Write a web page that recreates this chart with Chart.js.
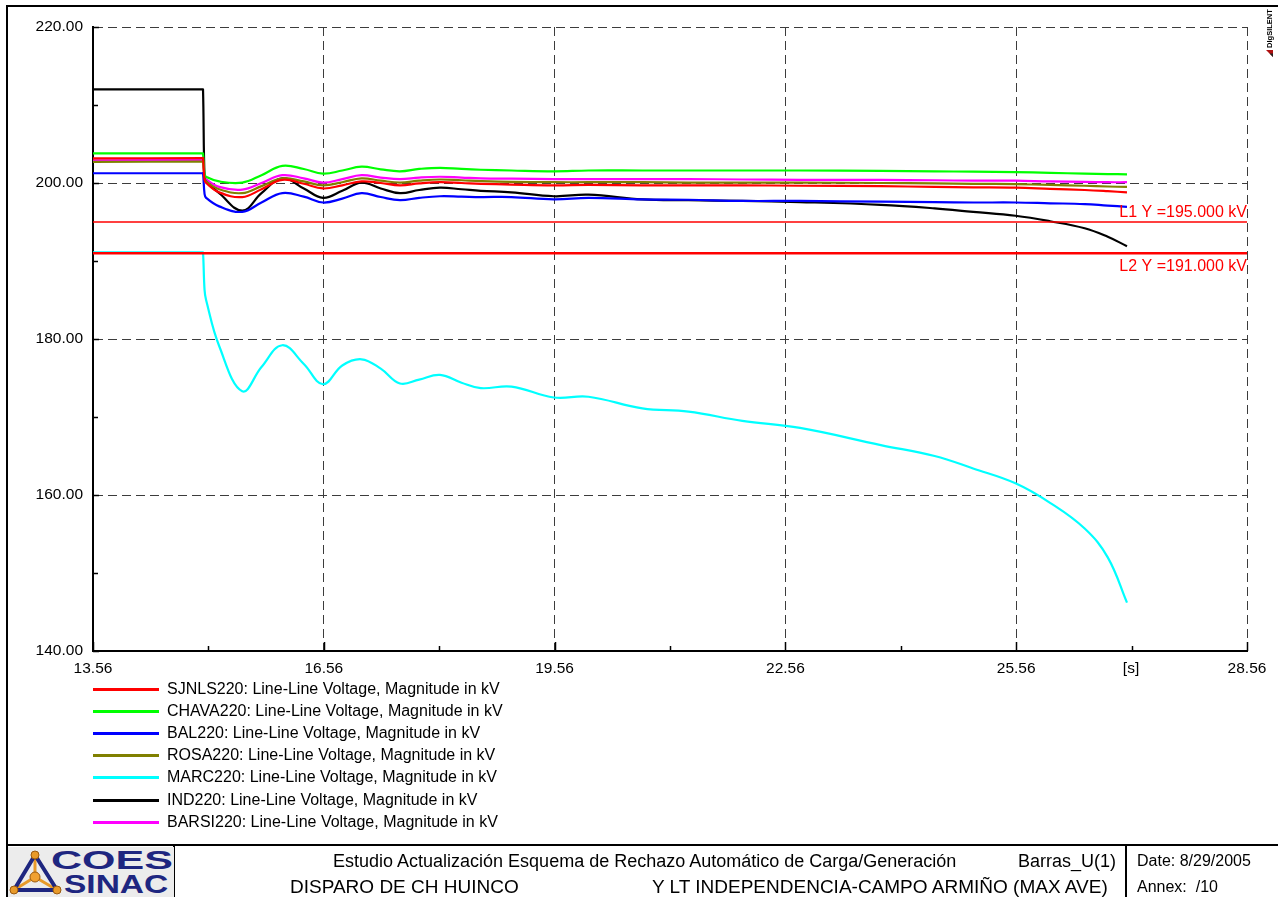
<!DOCTYPE html>
<html>
<head>
<meta charset="utf-8">
<script src="https://cdn.jsdelivr.net/npm/chart.js@4.4.0/dist/chart.umd.min.js"></script>
<style>
html,body{margin:0;padding:0;background:#fff;}
body{width:1278px;height:897px;position:relative;overflow:hidden;font-family:"Liberation Sans",Arial,sans-serif;color:#000;}
#c{position:absolute;left:0;top:0;}
.frame{position:absolute;left:6px;top:5px;width:1300px;height:920px;border-left:2px solid #000;border-top:2px solid #000;}
.hline{position:absolute;height:2px;background:#000;}
.vline{position:absolute;width:2px;background:#000;}
.leg{position:absolute;left:0;top:0;}
.legitem{position:absolute;left:0;height:20px;width:600px;}
.legline{position:absolute;left:93px;top:9px;width:66px;height:3px;}
.legtext{position:absolute;left:167px;top:1px;font-size:16px;line-height:18px;white-space:nowrap;}
.tb{position:absolute;line-height:20px;white-space:pre;}
.logo{position:absolute;left:8px;top:847px;width:166px;height:50px;background:#ececec;overflow:hidden;}
.coes{position:absolute;left:43px;top:0px;font:bold 25px "Liberation Sans",Arial,sans-serif;color:#1e2680;transform:scaleX(1.72);transform-origin:0 0;line-height:26px;}
.sinac{position:absolute;left:56px;top:24px;font:bold 25px "Liberation Sans",Arial,sans-serif;color:#1e2680;transform:scaleX(1.34);transform-origin:0 0;line-height:26px;}
.dig{position:absolute;left:1246px;top:28px;width:48px;height:10px;transform:rotate(-90deg);transform-origin:center center;font:bold 7.5px "Liberation Sans",Arial,sans-serif;line-height:10px;white-space:nowrap;}
</style>
</head>
<body>
<canvas id="c" width="1278" height="897"></canvas>
<div class="frame"></div>
<div class="hline" style="left:6px;top:844px;width:1300px;"></div>
<div class="vline" style="left:173px;top:845px;height:60px;"></div>
<div class="vline" style="left:1125px;top:845px;height:60px;"></div>
<div class="logo">
  <svg width="60" height="50" style="position:absolute;left:0;top:0">
    <line x1="27" y1="30" x2="27" y2="8" stroke="#e89a2a" stroke-width="3"/>
    <line x1="27" y1="30" x2="6" y2="43" stroke="#e89a2a" stroke-width="3"/>
    <line x1="27" y1="30" x2="49" y2="43" stroke="#e89a2a" stroke-width="3"/>
    <polygon points="27,8 6,43 49,43" fill="none" stroke="#1e2680" stroke-width="4" stroke-linejoin="round"/>
    <circle cx="27" cy="8" r="4" fill="#e89a2a" stroke="#9a5a10" stroke-width="1"/>
    <circle cx="6" cy="43" r="4" fill="#e89a2a" stroke="#9a5a10" stroke-width="1"/>
    <circle cx="49" cy="43" r="4" fill="#e89a2a" stroke="#9a5a10" stroke-width="1"/>
    <circle cx="27" cy="30" r="5" fill="#f0a030" stroke="#9a5a10" stroke-width="1"/>
  </svg>
  <div class="coes">COES</div>
  <div class="sinac">SINAC</div>
</div>
<div class="dig"><svg width="7" height="7" style="vertical-align:-1px"><polygon points="0,7 7,7 7,0" fill="#b01010"/><polygon points="0,7 3.5,7 3.5,3.5" fill="#222"/></svg> DIgSILENT</div>
<div class="leg" id="leg"></div>
<div class="tb" style="left:333px;top:851px;font-size:18px;" id="t1"></div>
<div class="tb" style="left:1018px;top:851px;font-size:18px;" id="t2"></div>
<div class="tb" style="left:1137px;top:851px;font-size:16px;" id="t3"></div>
<div class="tb" style="left:290px;top:877px;font-size:19px;" id="t4"></div>
<div class="tb" style="left:652px;top:877px;font-size:19px;" id="t5"></div>
<div class="tb" style="left:1137px;top:877px;font-size:16px;" id="t6"></div>
<script>
// ---- data ----
const timeS = [13.56, 14.98, 14.99, 15.01, 15.03, 15.2, 15.5, 15.75, 16.02, 16.3, 16.55, 16.8, 17.05, 17.3, 17.55, 17.8, 18.07, 18.35, 18.6, 19.0, 19.55, 20.0, 20.7, 21.3, 22.0, 22.75, 23.8, 24.5, 25.0, 25.55, 26.0, 26.45, 26.75, 27.0];
const sjnls220 = [203.15, 203.2, 203.2, 200.4, 200.0, 198.8, 198.2, 199.2, 200.4, 199.9, 199.3, 199.7, 200.2, 200.0, 199.7, 199.95, 200.1, 200.0, 199.9, 199.8, 199.7, 199.75, 199.7, 199.7, 199.7, 199.65, 199.6, 199.5, 199.45, 199.4, 199.25, 199.1, 198.95, 198.8];
const chava220 = [203.8, 203.8, 203.8, 201.1, 200.8, 200.2, 200.05, 201.0, 202.2, 201.8, 201.2, 201.6, 202.1, 201.75, 201.5, 201.8, 201.95, 201.8, 201.7, 201.6, 201.5, 201.6, 201.6, 201.6, 201.6, 201.6, 201.55, 201.5, 201.45, 201.4, 201.3, 201.2, 201.15, 201.1];
const bal220 = [201.25, 201.25, 201.25, 198.6, 198.1, 197.0, 196.3, 197.5, 198.7, 198.25, 197.5, 198.0, 198.7, 198.2, 197.8, 198.1, 198.3, 198.25, 198.2, 198.2, 197.9, 198.1, 197.9, 197.85, 197.7, 197.7, 197.6, 197.55, 197.5, 197.5, 197.4, 197.3, 197.1, 196.95];
const rosa220 = [202.7, 202.75, 202.75, 200.6, 200.2, 199.2, 198.7, 199.6, 200.6, 200.2, 199.7, 200.1, 200.6, 200.3, 200.05, 200.3, 200.45, 200.35, 200.25, 200.15, 200.1, 200.1, 200.1, 200.05, 200.05, 200.05, 200.0, 199.95, 199.9, 199.85, 199.75, 199.65, 199.55, 199.5];
const marc220 = [191.1, 191.1, 191.1, 186.3, 185.0, 179.1, 173.3, 176.4, 179.2, 176.8, 174.2, 176.6, 177.4, 176.2, 174.3, 174.8, 175.4, 174.4, 173.7, 173.9, 172.5, 172.6, 171.1, 170.7, 169.5, 168.6, 166.4, 165.0, 163.4, 161.5, 159.0, 155.7, 152.0, 146.2];
const ind220 = [212.0, 212.0, 212.0, 200.6, 200.2, 198.7, 196.45, 198.7, 200.6, 199.3, 198.1, 199.0, 200.05, 199.3, 198.7, 199.1, 199.4, 199.2, 199.0, 198.8, 198.3, 198.5, 197.9, 197.8, 197.7, 197.55, 197.2, 196.75, 196.3, 195.8, 195.1, 194.2, 193.1, 191.9];
const barsi220 = [202.9, 202.95, 202.95, 200.9, 200.5, 199.5, 199.15, 200.0, 201.0, 200.6, 200.05, 200.5, 201.0, 200.7, 200.5, 200.7, 200.8, 200.7, 200.6, 200.55, 200.5, 200.5, 200.5, 200.5, 200.45, 200.4, 200.4, 200.35, 200.3, 200.3, 200.2, 200.15, 200.1, 200.1];

const seriesNames = ['SJNLS220', 'CHAVA220', 'BAL220', 'ROSA220', 'MARC220', 'IND220', 'BARSI220'];
const seriesValues = [sjnls220, chava220, bal220, rosa220, marc220, ind220, barsi220];
const seriesColors = ['#ff0000', '#00ff00', '#0000ff', '#808000', '#00ffff', '#000000', '#ff00ff'];
const legendSuffix = ': Line-Line Voltage, Magnitude in kV';

const xTicks = [13.56, 16.56, 19.56, 22.56, 25.56, 28.56];
const xMinorTicks = [15.06, 18.06, 21.06, 24.06, 27.06];
const yTicks = [140, 160, 180, 200, 220];
const yMinorTicks = [150, 170, 190, 210];
const limitValues = [195, 191];
const limitLabels = ['L1 Y =195.000 kV', 'L2 Y =191.000 kV'];
const xUnit = '[s]';

const titleTexts = ['Estudio Actualización Esquema de Rechazo Automático de Carga/Generación', 'Barras_U(1)', 'Date: 8/29/2005', 'DISPARO DE CH HUINCO', 'Y LT INDEPENDENCIA-CAMPO ARMIÑO (MAX AVE)', 'Annex:  /10'];

// ---- page text ----
['t1','t2','t3','t4','t5','t6'].forEach((id, i) => { document.getElementById(id).textContent = titleTexts[i]; });
const leg = document.getElementById('leg');
seriesNames.forEach((n, i) => {
  const it = document.createElement('div');
  it.className = 'legitem';
  it.style.top = (679 + i * 22.1) + 'px';
  const ln = document.createElement('div'); ln.className = 'legline'; ln.style.background = seriesColors[i];
  const tx = document.createElement('div'); tx.className = 'legtext'; tx.textContent = n + legendSuffix;
  it.appendChild(ln); it.appendChild(tx); leg.appendChild(it);
});

// ---- chart ----
const FONT = '"Liberation Sans", Arial, sans-serif';
const datasets = seriesNames.map((n, i) => ({
  label: n,
  data: timeS.map((t, k) => ({ x: t, y: seriesValues[i][k] })),
  borderColor: seriesColors[i],
  borderWidth: 2.2,
  pointRadius: 0,
  tension: 0.4,
  order: 1
}));
limitValues.forEach((v, i) => {
  datasets.push({
    label: limitLabels[i],
    data: [{ x: xTicks[0], y: v }, { x: xTicks[xTicks.length - 1], y: v }],
    borderColor: '#ff0000',
    borderWidth: i === 0 ? 1.3 : 2.4,
    pointRadius: 0,
    tension: 0,
    order: -1
  });
});

const decor = {
  id: 'decor',
  afterDraw(chart) {
    const { ctx, scales: { x, y }, chartArea: a } = chart;
    ctx.save();
    ctx.strokeStyle = '#000';
    ctx.lineWidth = 1.5;
    ctx.beginPath();
    yTicks.forEach(v => { const p = Math.round(y.getPixelForValue(v)) + 0.5; ctx.moveTo(a.left, p); ctx.lineTo(a.left + 6, p); });
    yMinorTicks.forEach(v => { const p = Math.round(y.getPixelForValue(v)) + 0.5; ctx.moveTo(a.left, p); ctx.lineTo(a.left + 5, p); });
    xTicks.forEach(v => { const p = Math.round(x.getPixelForValue(v)) + 0.5; ctx.moveTo(p, a.bottom); ctx.lineTo(p, a.bottom - 9); });
    xMinorTicks.forEach(v => { const p = Math.round(x.getPixelForValue(v)) + 0.5; ctx.moveTo(p, a.bottom); ctx.lineTo(p, a.bottom - 5); });
    ctx.stroke();
    ctx.fillStyle = '#ff0000';
    ctx.font = '16px ' + FONT;
    ctx.textAlign = 'right';
    ctx.textBaseline = 'alphabetic';
    ctx.fillText(limitLabels[0], a.right, y.getPixelForValue(limitValues[0]) - 5);
    ctx.textBaseline = 'top';
    ctx.fillText(limitLabels[1], a.right, y.getPixelForValue(limitValues[1]) + 5);
    ctx.fillStyle = '#000';
    ctx.font = '15.5px ' + FONT;
    ctx.textAlign = 'center';
    ctx.textBaseline = 'middle';
    ctx.fillText(xUnit, 1131, 669);
    ctx.restore();
  }
};

new Chart(document.getElementById('c'), {
  type: 'line',
  data: { datasets },
  options: {
    responsive: false,
    animation: false,
    events: [],
    layout: { padding: { left: 0, top: 27, right: 31, bottom: 216 } },
    plugins: { legend: { display: false }, tooltip: { enabled: false } },
    scales: {
      x: {
        type: 'linear',
        min: xTicks[0],
        max: xTicks[xTicks.length - 1],
        afterBuildTicks: s => { s.ticks = xTicks.map(v => ({ value: v })); },
        afterFit: s => { s.height = 30; },
        ticks: { callback: v => Number(v).toFixed(2), color: '#000', font: { family: FONT, size: 15.5 }, padding: 8, maxRotation: 0, autoSkip: false },
        grid: { color: '#3c3c3c', lineWidth: 1, drawTicks: false },
        border: { display: true, color: '#000', width: 2, dash: [9, 5] }
      },
      y: {
        type: 'linear',
        min: yTicks[0],
        max: yTicks[yTicks.length - 1],
        afterBuildTicks: s => { s.ticks = yTicks.map(v => ({ value: v })); },
        afterFit: s => { s.width = 93; },
        ticks: { callback: v => Number(v).toFixed(2), color: '#000', font: { family: FONT, size: 15.5 }, padding: 10 },
        grid: { color: '#3c3c3c', lineWidth: 1, drawTicks: false },
        border: { display: true, color: '#000', width: 2, dash: [9, 5] }
      }
    }
  },
  plugins: [decor]
});
</script>
</body>
</html>
